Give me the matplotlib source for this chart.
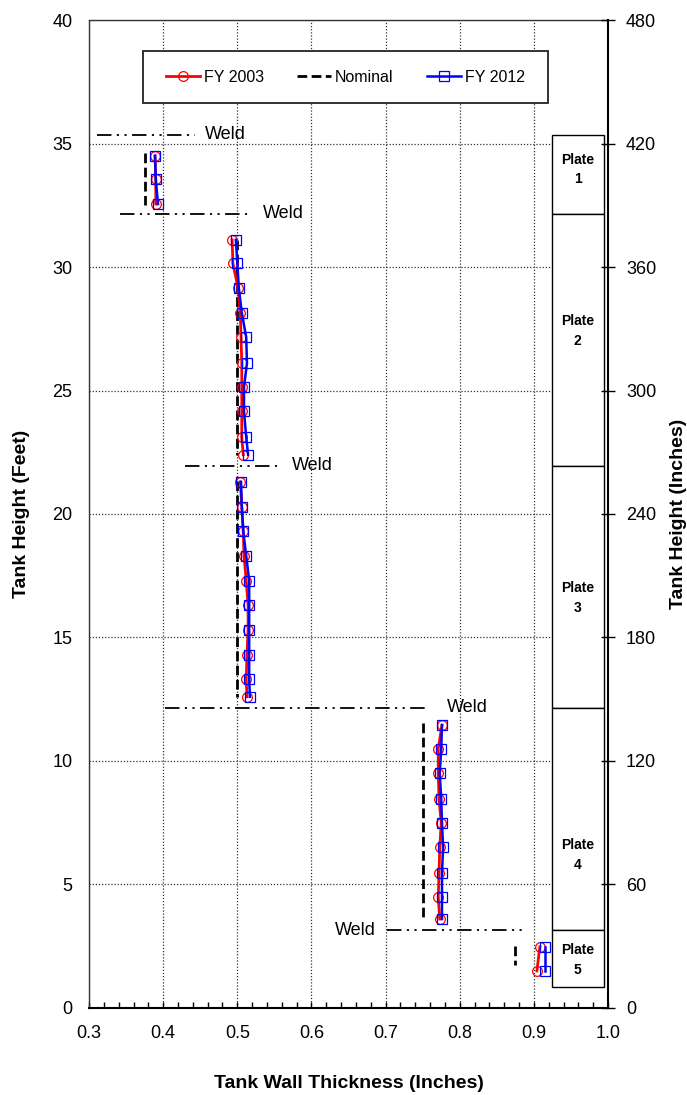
import matplotlib
matplotlib.use("Agg")
import matplotlib.pyplot as plt
from matplotlib.patches import Rectangle
from matplotlib.ticker import MultipleLocator

plt.rcParams['font.family'] = ['Liberation Sans', 'DejaVu Sans']

# plate 1
p1_h = [34.5, 33.55, 32.55]
p1_2003 = [0.389, 0.390, 0.390]
p1_2012 = [0.389, 0.390, 0.393]
# plate 2
p2_h = [31.1, 30.15, 29.15, 28.15, 27.15, 26.1, 25.15, 24.15, 23.1, 22.4]
p2_2003 = [0.493, 0.494, 0.501, 0.504, 0.505, 0.506, 0.506, 0.506, 0.506, 0.508]
p2_2012 = [0.498, 0.500, 0.502, 0.506, 0.512, 0.513, 0.509, 0.509, 0.512, 0.5145]
# plate 3
p3_h = [21.3, 20.3, 19.3, 18.3, 17.3, 16.3, 15.3, 14.3, 13.3, 12.6]
p3_2003 = [0.504, 0.506, 0.508, 0.509, 0.512, 0.5145, 0.5145, 0.513, 0.512, 0.513]
p3_2012 = [0.505, 0.506, 0.508, 0.512, 0.516, 0.516, 0.516, 0.516, 0.516, 0.517]
# plate 4
p4_h = [11.45, 10.5, 9.5, 8.45, 7.5, 6.5, 5.45, 4.5, 3.6]
p4_2003 = [0.776, 0.771, 0.771, 0.772, 0.775, 0.773, 0.772, 0.771, 0.773]
p4_2012 = [0.776, 0.775, 0.773, 0.775, 0.776, 0.7775, 0.776, 0.776, 0.776]
# plate 5
p5_h = [2.47, 1.5]
p5_2003 = [0.908, 0.904]
p5_2012 = [0.915, 0.915]

# nominal thickness per plate: (thickness, top, bottom)
nom_t = [0.375, 0.5, 0.5, 0.75, 0.875]
nom_top = [34.6, 31.1, 21.35, 11.55, 2.5]
nom_bot = [32.5, 22.4, 12.6, 3.6, 1.75]

# welds: height, line start, line end, label x
weld_y = [35.35, 32.15, 21.95, 12.15, 3.15]
weld_x0 = [0.311, 0.342, 0.4295, 0.4025, 0.702]
weld_x1 = [0.443, 0.5145, 0.5576, 0.76, 0.884]
weld_tx = [0.456, 0.535, 0.574, 0.783, 0.687]
weld_ha = ['left', 'left', 'left', 'left', 'right']

# plate boxes
plate_names = ['Plate\n1', 'Plate\n2', 'Plate\n3', 'Plate\n4', 'Plate\n5']
plate_top = [35.35, 32.15, 21.95, 12.15, 3.15]
plate_bot = [32.15, 21.95, 12.15, 3.15, 0.85]
plate_label_y = [33.95, 27.4, 16.6, 6.2, 1.95]

fig = plt.figure(figsize=(6.87, 10.95), dpi=100)
ax = fig.add_axes([0.1296, 0.0795, 0.7555, 0.9022])

ax.set_xlim(0.3, 1.0)
ax.set_ylim(0, 40)

heights = [p1_h, p2_h, p3_h, p4_h, p5_h]
fy03 = [p1_2003, p2_2003, p3_2003, p4_2003, p5_2003]
fy12 = [p1_2012, p2_2012, p3_2012, p4_2012, p5_2012]

for i in range(5):
    ax.plot([nom_t[i], nom_t[i]], [nom_top[i], nom_bot[i]], color='black',
            lw=2, ls=(0, (3.5, 1.6)), zorder=3, label='Nominal' if i == 0 else None)
for i in range(5):
    ax.plot(fy03[i], heights[i], color='red', lw=2, marker='o', ms=7,
            mfc='none', mec='red', mew=0.9, zorder=4, label='FY 2003' if i == 0 else None)
for i in range(5):
    ax.plot(fy12[i], heights[i], color='blue', lw=1.8, marker='s', ms=6.5,
            mfc='none', mec='blue', mew=0.9, zorder=5, label='FY 2012' if i == 0 else None)

for i in range(5):
    ax.plot([weld_x0[i], weld_x1[i]], [weld_y[i], weld_y[i]], color='black', lw=1.3,
            ls=(0, (8, 3, 1.2, 3, 1.2, 3)), zorder=3)
    ax.text(weld_tx[i], weld_y[i], 'Weld', fontsize=13, ha=weld_ha[i], va='center', zorder=6)

for i in range(5):
    ax.add_patch(Rectangle((0.924, plate_bot[i]), 0.0706, plate_top[i] - plate_bot[i],
                           facecolor='white', edgecolor='black', lw=1, zorder=2))
    ax.text(0.959, plate_label_y[i], plate_names[i], fontsize=10, fontweight='bold',
            ha='center', va='center', linespacing=1.5, zorder=6)

ax.xaxis.set_major_locator(MultipleLocator(0.1))
ax.xaxis.set_minor_locator(MultipleLocator(0.02))
ax.yaxis.set_major_locator(MultipleLocator(5))
ax.grid(True, which='major', color='#333333', lw=0.9, ls=(0, (1, 1.5)), zorder=0)
ax.set_axisbelow(True)

ax.tick_params(axis='x', which='both', direction='in', length=4, width=1, labelsize=13, pad=12)
ax.tick_params(axis='y', which='both', length=0, labelsize=13, pad=12)
ax.set_xticks([0.3, 0.4, 0.5, 0.6, 0.7, 0.8, 0.9, 1.0])
ax.set_xticklabels(['0.3', '0.4', '0.5', '0.6', '0.7', '0.8', '0.9', '1.0'])

for side in ['left', 'top']:
    ax.spines[side].set_linestyle((0, (1, 1)))
    ax.spines[side].set_color('#333333')
    ax.spines[side].set_linewidth(1)
ax.spines['bottom'].set_linewidth(1.5)
ax.spines['right'].set_visible(False)

ax.set_xlabel('Tank Wall Thickness (Inches)', fontsize=14, fontweight='bold', labelpad=24)
ax.set_ylabel('Tank Height (Feet)', fontsize=14, fontweight='bold', labelpad=16)

ax2 = ax.twinx()
ax2.set_ylim(0, 480)
ax2.yaxis.set_major_locator(MultipleLocator(60))
ax2.tick_params(axis='y', direction='inout', length=10, width=1, labelsize=13, pad=8)
ax2.spines['right'].set_linewidth(1.5)
for side in ['left', 'top', 'bottom']:
    ax2.spines[side].set_visible(False)
ax2.set_ylabel('Tank Height (Inches)', fontsize=14, fontweight='bold', labelpad=10)

# legend frame drawn separately so its size matches the original box
ax2.add_patch(Rectangle((0.104, 0.916), 0.780, 0.0526, transform=ax.transAxes,
                        facecolor='white', edgecolor='#222222', lw=1.3, zorder=9))
handles, labels = ax.get_legend_handles_labels()
order = [labels.index('FY 2003'), labels.index('Nominal'), labels.index('FY 2012')]
leg = ax2.legend([handles[k] for k in order], [labels[k] for k in order],
                 loc='center', bbox_to_anchor=(0.494, 0.942), bbox_transform=ax.transAxes,
                 ncol=3, fontsize=11.5, handlelength=2.1,
                 handletextpad=0.25, columnspacing=2.1, frameon=False, borderaxespad=0)
leg.set_zorder(10)

fig.savefig('out.png', dpi=100)
